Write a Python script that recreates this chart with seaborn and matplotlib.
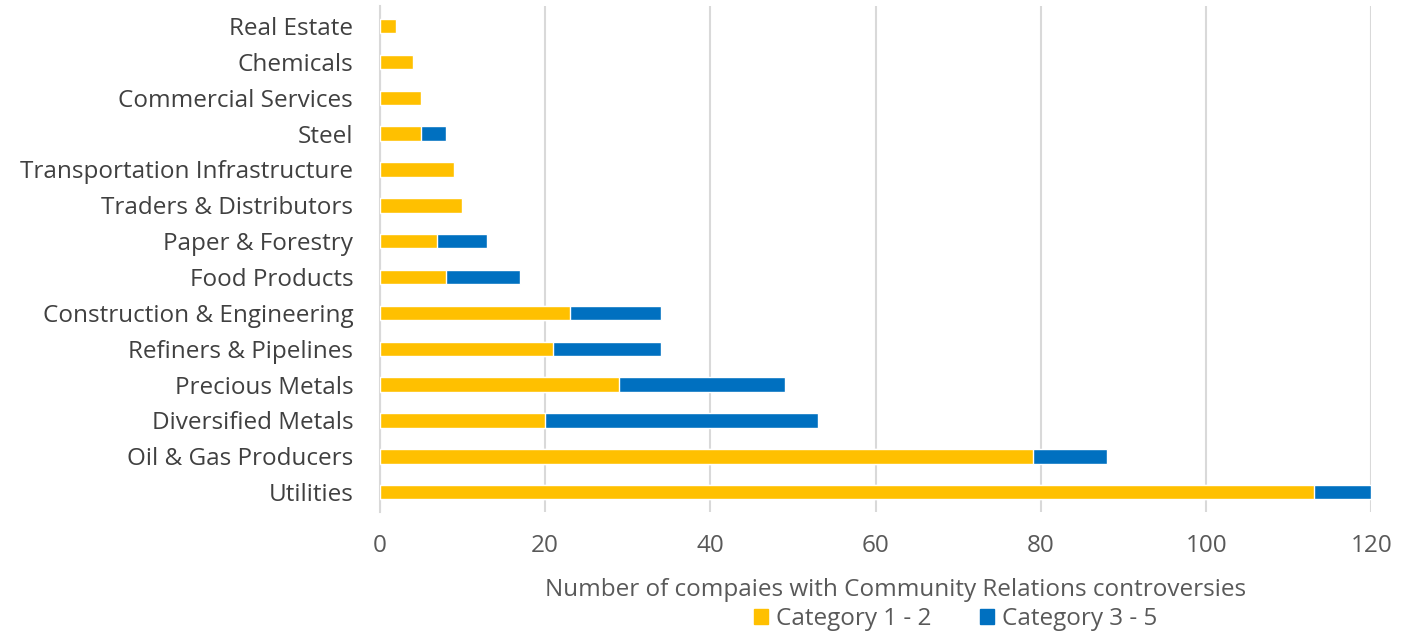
import matplotlib
matplotlib.use("Agg")
import matplotlib.pyplot as plt
import seaborn as sns
import pandas as pd
from matplotlib.patches import Patch

categories = ["Real Estate", "Chemicals", "Commercial Services", "Steel",
              "Transportation Infrastructure", "Traders & Distributors",
              "Paper & Forestry", "Food Products", "Construction & Engineering",
              "Refiners & Pipelines", "Precious Metals", "Diversified Metals",
              "Oil & Gas Producers", "Utilities"]
cat_1_2 = [2, 4, 5, 5, 9, 10, 7, 8, 23, 21, 29, 20, 79, 113]
cat_3_5 = [0, 0, 0, 3, 0, 0, 6, 9, 11, 13, 20, 33, 9, 7]
xticks = [0, 20, 40, 60, 80, 100, 120]

YELLOW = "#FFC000"
BLUE = "#0070C0"

df = pd.DataFrame({"sector": categories, "c12": cat_1_2, "c35": cat_3_5})
df["total"] = df["c12"] + df["c35"]

sns.set_theme(style="white")
plt.rcParams["font.family"] = ["Open Sans", "DejaVu Sans"]
FS = 17.5

fig = plt.figure(figsize=(14.11, 6.32), dpi=100)
ax = fig.add_axes([0.269, 0.19, 0.703, 0.80])

sns.barplot(data=df, y="sector", x="total", color=BLUE, orient="h",
            width=0.4, ax=ax, saturation=1, zorder=3)
sns.barplot(data=df, y="sector", x="c12", color=YELLOW, orient="h",
            width=0.4, ax=ax, saturation=1, zorder=4)

ax.set_xlim(0, 120)
ax.set_xticks(xticks)
ax.set_xticklabels([str(t) for t in xticks], fontsize=FS, color="#595959")
ax.tick_params(axis="y", labelsize=FS, labelcolor="#404040", length=0, pad=19)
ax.tick_params(axis="x", length=0, pad=16)
ax.set_ylabel("")
ax.set_xlabel("Number of compaies with Community Relations controversies",
              fontsize=FS, color="#595959", labelpad=14)
ax.xaxis.label.set_x(0.52)
ax.xaxis.grid(True, color="#D9D9D9", linewidth=1.5, zorder=0)
ax.set_axisbelow(True)
for s in ["top", "right", "bottom"]:
    ax.spines[s].set_visible(False)
ax.spines["left"].set_color("#D9D9D9")
ax.spines["left"].set_linewidth(1.5)
ax.set_ylim(13.55, -0.55)

handles = [Patch(color=YELLOW, label="Category 1 - 2"),
           Patch(color=BLUE, label="Category 3 - 5")]
fig.legend(handles=handles, loc="lower center", bbox_to_anchor=(0.677, -0.033),
           ncol=2, frameon=False, fontsize=FS, handlelength=0.6, handleheight=0.6,
           handletextpad=0.3, columnspacing=2.0, labelcolor="#595959")

fig.savefig("out.png", dpi=100)
